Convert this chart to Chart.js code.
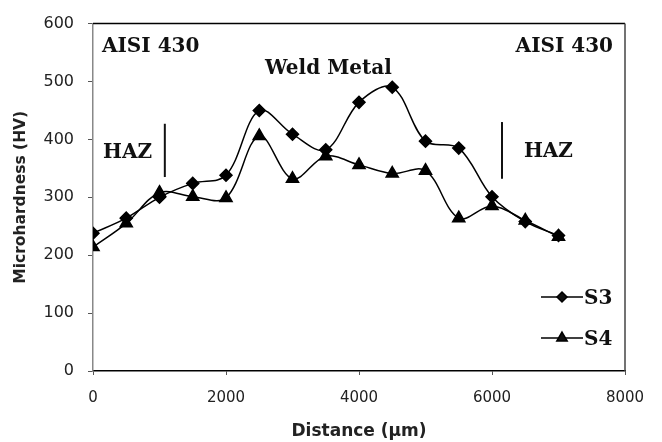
<!DOCTYPE html>
<html>
<head>
<meta charset="utf-8">
<script src="https://cdn.jsdelivr.net/npm/chart.js@4"></script>
<style>
  html, body { margin: 0; padding: 0; background: #fff; }
  #wrap { width: 662px; height: 442px; }
</style>
</head>
<body>
<div id="wrap"><canvas id="hardnessChart" width="662" height="442"></canvas></div>
<script>
// distance from weld line, um
const distance = [0, 500, 1000, 1500, 2000, 2500, 3000, 3500, 4000, 4500, 5000, 5500, 6000, 6500, 7000];
const s3 = [238, 264, 300, 324, 338, 450, 409, 382, 464, 490, 397, 385, 301, 258, 234];
const s4 = [214, 255, 308, 301, 299, 406, 332, 371, 356, 341, 346, 264, 285, 260, 232];
const seriesNames = ['S3', 'S4'];
const xTicks = [0, 2000, 4000, 6000, 8000];
const yTicks = [0, 100, 200, 300, 400, 500, 600];

const serifBold = 'bold 20px "DejaVu Serif", "Liberation Serif", serif';

// frame, zone labels and the legend sit inside the plot
const extras = {
    id: 'extras',
    afterDraw(chart) {
        const ctx = chart.ctx;
        const a = chart.chartArea;
        const x = chart.scales.x;
        const y = chart.scales.y;
        ctx.save();

        ctx.strokeStyle = '#000';
        ctx.lineWidth = 1.5;
        ctx.beginPath();
        ctx.moveTo(a.left, a.top);
        ctx.lineTo(a.right, a.top);
        ctx.stroke();
        ctx.strokeStyle = '#444';
        ctx.beginPath();
        ctx.moveTo(a.right, a.top);
        ctx.lineTo(a.right, a.bottom);
        ctx.stroke();

        ctx.fillStyle = '#111';
        ctx.font = serifBold;
        ctx.textBaseline = 'alphabetic';
        ctx.textAlign = 'left';
        ctx.fillText('AISI 430', a.left + 9, a.top + 28);
        ctx.textAlign = 'right';
        ctx.fillText('AISI 430', a.right - 12, a.top + 28);
        ctx.textAlign = 'center';
        ctx.fillText('Weld Metal', x.getPixelForValue(3540), a.top + 50);
        ctx.textAlign = 'left';
        ctx.fillText('HAZ', a.left + 10, y.getPixelForValue(368));
        ctx.fillText('HAZ', x.getPixelForValue(6480), y.getPixelForValue(370));

        ctx.strokeStyle = '#111';
        ctx.lineWidth = 2;
        [[1080, 427, 335], [6150, 430, 332]].forEach(([v, y1, y2]) => {
            const px = x.getPixelForValue(v);
            ctx.beginPath();
            ctx.moveTo(px, y.getPixelForValue(y1));
            ctx.lineTo(px, y.getPixelForValue(y2));
            ctx.stroke();
        });

        // legend
        chart.data.datasets.forEach((ds, i) => {
            const ly = a.bottom - 74 + i * 41;
            const lx = a.right - 84;
            ctx.strokeStyle = '#000';
            ctx.lineWidth = 1.5;
            ctx.beginPath();
            ctx.moveTo(lx, ly);
            ctx.lineTo(lx + 42, ly);
            ctx.stroke();
            Chart.helpers.drawPoint(ctx, {
                pointStyle: ds.pointStyle,
                radius: ds.pointStyle === 'triangle' ? 6 : 5,
                borderWidth: 1
            }, lx + 21, ly);
            ctx.fillStyle = '#111';
            ctx.textAlign = 'left';
            ctx.fillText(ds.label, lx + 43, ly + 7);
        });
        ctx.restore();
    }
};

new Chart(document.getElementById('hardnessChart'), {
    type: 'line',
    data: {
        labels: distance,
        datasets: [
            {
                label: seriesNames[0],
                data: distance.map((d, i) => ({ x: d, y: s3[i] })),
                borderColor: '#000',
                backgroundColor: '#000',
                borderWidth: 1.5,
                pointStyle: 'rectRot',
                pointRadius: 6,
                pointHoverRadius: 6,
                tension: 0.35
            },
            {
                label: seriesNames[1],
                data: distance.map((d, i) => ({ x: d, y: s4[i] })),
                borderColor: '#000',
                backgroundColor: '#000',
                borderWidth: 1.5,
                pointStyle: 'triangle',
                pointRadius: 7,
                pointHoverRadius: 7,
                tension: 0.35
            }
        ]
    },
    options: {
        responsive: false,
        animation: false,
        layout: { padding: { top: 18, right: 37, left: 12, bottom: 0 } },
        plugins: {
            legend: { display: false },
            tooltip: { enabled: false }
        },
        scales: {
            x: {
                type: 'linear',
                min: 0,
                max: 8000,
                afterBuildTicks: (s) => { s.ticks = xTicks.map(v => ({ value: v })); },
                afterFit: (s) => { s.height = 71; },
                grid: { drawOnChartArea: false, drawTicks: true, tickLength: 4, color: '#555' },
                border: { color: '#000', width: 1.5 },
                ticks: {
                    color: '#222',
                    font: { family: 'DejaVu Sans', size: 15 },
                    padding: 14,
                    maxRotation: 0,
                    callback: (v) => String(v)
                },
                title: {
                    display: true,
                    text: 'Distance (µm)',
                    color: '#222',
                    font: { family: 'DejaVu Sans', size: 17, weight: 'bold' },
                    padding: { top: 4, bottom: 0 }
                }
            },
            y: {
                min: 0,
                max: 600,
                afterBuildTicks: (s) => { s.ticks = yTicks.map(v => ({ value: v })); },
                afterFit: (s) => { s.width = 81; },
                grid: { drawOnChartArea: false, drawTicks: true, tickLength: 5, color: '#555' },
                border: { color: '#888', width: 1.5 },
                ticks: {
                    color: '#222',
                    font: { family: 'DejaVu Sans', size: 16 },
                    padding: 14,
                    callback: (v) => String(v)
                },
                title: {
                    display: true,
                    text: 'Microhardness (HV)',
                    color: '#222',
                    font: { family: 'DejaVu Sans', size: 15.5, weight: 'bold' },
                    padding: { top: 0, bottom: 4 }
                }
            }
        }
    },
    plugins: [extras]
});
</script>
</body>
</html>
